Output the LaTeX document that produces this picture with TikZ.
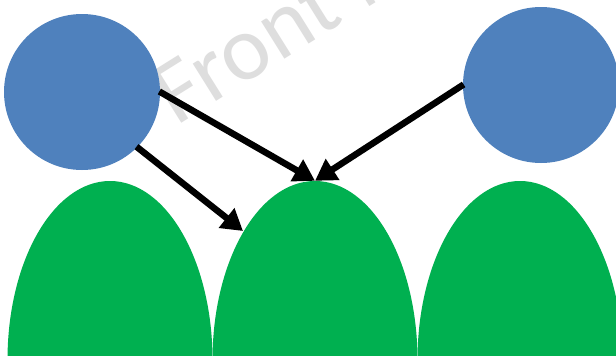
\documentclass[tikz,border=0pt]{standalone}
\usepackage{fontspec}
\newfontfamily\wmfont{Carlito}
\usetikzlibrary{arrows.meta,shapes.geometric}
\definecolor{circblue}{HTML}{4F81BD}
\definecolor{hillgreen}{HTML}{00B050}
\definecolor{wmgray}{RGB}{222,222,222}
\tikzset{
  headc/.style={circle, fill=circblue, inner sep=0pt, minimum size=156pt},
  hill/.style={ellipse, fill=hillgreen, inner sep=0pt, minimum width=205pt, minimum height=358pt},
  link/.style={line width=6.5pt, -{Triangle[length=21pt,width=24pt]}, shorten <=-1pt},
  wm/.style={text=wmgray, font=\wmfont\fontsize{92}{92}\selectfont, rotate=32, anchor=base west, inner sep=0pt}
}
\begin{document}
\begin{tikzpicture}[x=1pt,y=-1pt]
\useasboundingbox (0,0) rectangle (616,356);
\clip (0,0) rectangle (616,356);
\fill[white] (0,0) rectangle (616,356);
\node[wm] (mark) at (176,127) {Front Matter};
\node[hill] (g1) at (110,360) {};
\node[hill] (g2) at (315,360) {};
\node[hill] (g3) at (520,360) {};
\node[headc] (c1) at (82,92) {};
\node[headc] (c2) at (541,85) {};
\coordinate (g2side) at (243,231);
\draw[link] (c1.east) -- (g2.north);
\draw[link] (c2.west) -- (g2.north);
\draw[link] (c1.-45) -- (g2side);
\end{tikzpicture}
\end{document}
